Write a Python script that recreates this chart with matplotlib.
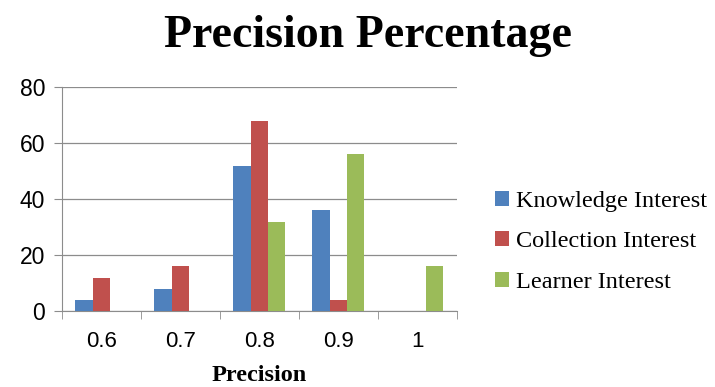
import matplotlib
matplotlib.use("Agg")
import matplotlib.pyplot as plt
import numpy as np

categories = ["0.6", "0.7", "0.8", "0.9", "1"]
knowledge = [4, 8, 52, 36, 0]
collection = [12, 16, 68, 4, 0]
learner = [0, 0, 32, 56, 16]
series_names = ["Knowledge Interest", "Collection Interest", "Learner Interest"]
colors = ["#4F81BD", "#C0504D", "#9BBB59"]

fig = plt.figure(figsize=(7.15, 3.87), dpi=100)
ax = fig.add_axes([0.0867, 0.196, 0.552, 0.579])

x = np.arange(len(categories))
w = 0.22
for i, (vals, name, c) in enumerate(zip([knowledge, collection, learner], series_names, colors)):
    ax.bar(x + (i - 1) * w, vals, width=w, color=c, label=name, zorder=3)

ax.set_xlim(-0.5, len(categories) - 0.5)
ax.set_ylim(0, 80)
ax.set_yticks([0, 20, 40, 60, 80])
ax.yaxis.grid(True, color="#8C8C8C", linewidth=0.9, zorder=0)
for s in ["top", "right"]:
    ax.spines[s].set_visible(False)
ax.spines["left"].set_color("#8C8C8C")
ax.spines["bottom"].set_color("#8C8C8C")
ax.set_xticks(x)
ax.set_xticklabels(categories, fontfamily="Liberation Sans", fontsize=16)
ax.set_xticks(np.arange(-0.5, len(categories)), minor=True)
ax.tick_params(axis="x", which="major", length=0, pad=14)
ax.tick_params(axis="x", which="minor", length=6, color="#8C8C8C")
ax.tick_params(axis="y", length=6, color="#8C8C8C", labelsize=16.5, pad=6)
for lab in ax.get_yticklabels():
    lab.set_fontfamily("Liberation Sans")

ax.set_xlabel("Precision", fontfamily="Liberation Serif", fontweight="bold", fontsize=17.5, labelpad=10)
fig.suptitle("Precision Percentage", fontfamily="Liberation Serif", fontweight="bold", fontsize=33, y=0.96, x=0.515)

leg = fig.legend(loc="center left", bbox_to_anchor=(0.662, 0.375), frameon=False,
                 prop={"family": "Liberation Serif", "size": 17.5},
                 handlelength=0.55, handleheight=0.55, handletextpad=0.3, labelspacing=0.8)

fig.savefig("out.png", dpi=100)
